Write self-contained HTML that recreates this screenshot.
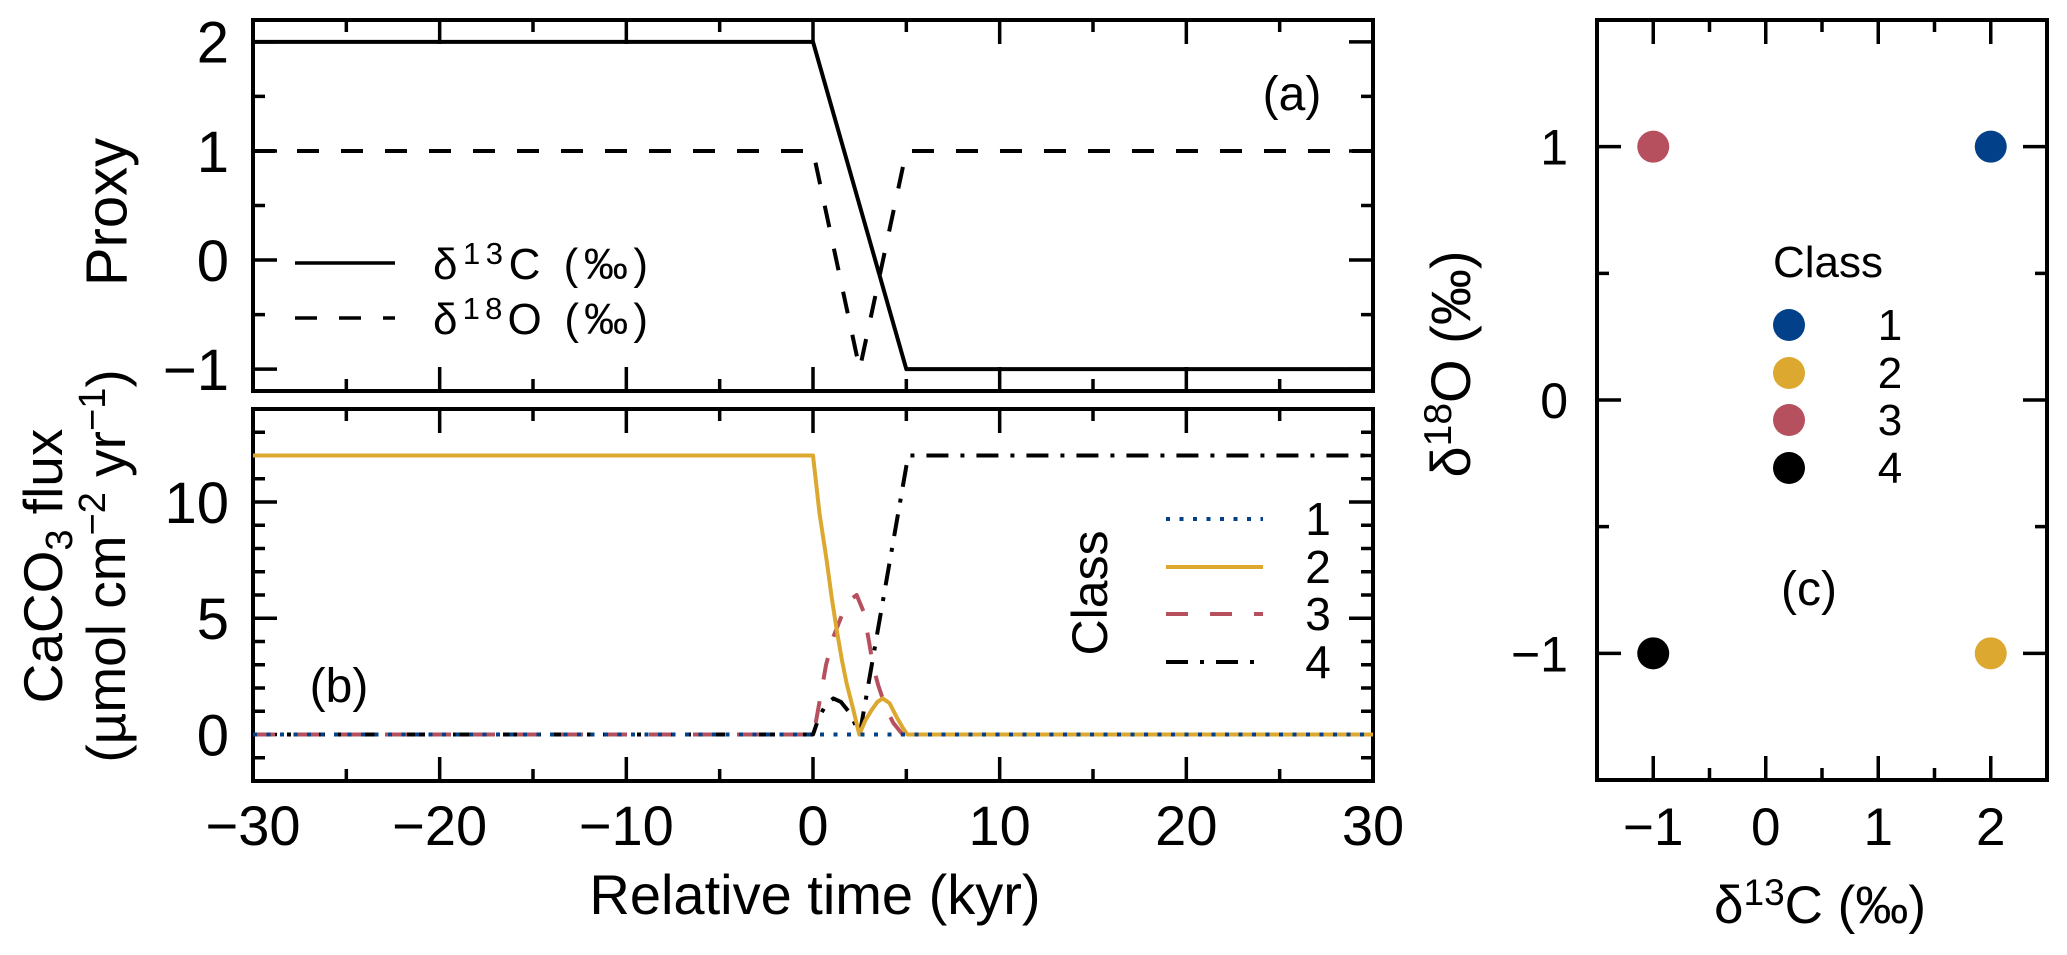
<!DOCTYPE html>
<html><head><meta charset="utf-8"><style>
html,body{margin:0;padding:0;background:#fff;}
svg{display:block;font-family:"Liberation Sans",Arial,sans-serif;}
</style></head><body>
<svg id="fig" width="2067" height="955" viewBox="0 0 2067 955" xmlns="http://www.w3.org/2000/svg">
<g id="axes"></g>
<g id="marks"></g>
<g id="texts" fill="#000">
  <text x="107" y="212" font-size="58" text-anchor="middle" transform="rotate(-90 107 212)" dominant-baseline="central">Proxy</text>
  <text x="62" y="566" font-size="55" text-anchor="middle" transform="rotate(-90 62 566)">CaCO<tspan font-size="38" dy="10">3</tspan><tspan dy="-10"> flux</tspan></text>
  <text x="125" y="566" font-size="55" text-anchor="middle" transform="rotate(-90 125 566)">(µmol cm<tspan font-size="38" dy="-20">−2</tspan><tspan dy="20"> yr</tspan><tspan font-size="38" dy="-20">−1</tspan><tspan dy="20">)</tspan></text>
  <text x="815" y="914" font-size="56" text-anchor="middle">Relative time (kyr)</text>
  <text x="1292" y="110" font-size="48" text-anchor="middle">(a)</text>
  <text x="339" y="702" font-size="48" text-anchor="middle">(b)</text>
  <text x="1809" y="605" font-size="48" text-anchor="middle">(c)</text>
  <text x="1820" y="923" font-size="53" text-anchor="middle">δ<tspan font-size="37" dy="-18">13</tspan><tspan dy="18">C (‰)</tspan></text>
  <text x="1470" y="364" font-size="56" text-anchor="middle" transform="rotate(-90 1470 364)">δ<tspan font-size="39" dy="-19">18</tspan><tspan dy="19">O (‰)</tspan></text>
  <g>
    <line x1="295" y1="263" x2="395" y2="263" stroke="#000" stroke-width="3.5"/>
    <line x1="295" y1="318" x2="395" y2="318" stroke="#000" stroke-width="3.5" stroke-dasharray="22 22"/>
    <text x="433" y="279" font-size="44" textLength="215" lengthAdjust="spacing">δ<tspan font-size="31" dy="-15">13</tspan><tspan dy="15">C (‰)</tspan></text>
    <text x="433" y="334" font-size="44" textLength="215" lengthAdjust="spacing">δ<tspan font-size="31" dy="-15">18</tspan><tspan dy="15">O (‰)</tspan></text>
  </g>
  <g>
    <text x="1107" y="593" font-size="50" text-anchor="middle" transform="rotate(-90 1107 593)">Class</text>
    <line x1="1166" y1="519" x2="1263" y2="519" stroke="#02418A" stroke-width="4" stroke-dasharray="4 9.5"/>
    <line x1="1166" y1="567" x2="1263" y2="567" stroke="#DCA82F" stroke-width="4"/>
    <line x1="1166" y1="614" x2="1263" y2="614" stroke="#B6505F" stroke-width="4" stroke-dasharray="22 22"/>
    <line x1="1166" y1="662" x2="1263" y2="662" stroke="#000" stroke-width="4" stroke-dasharray="22 12 4 12"/>
    <text x="1318" y="535" font-size="46" text-anchor="middle">1</text>
    <text x="1318" y="583" font-size="46" text-anchor="middle">2</text>
    <text x="1318" y="630" font-size="46" text-anchor="middle">3</text>
    <text x="1318" y="678" font-size="46" text-anchor="middle">4</text>
  </g>
  <g>
    <text x="1828" y="277" font-size="44" text-anchor="middle">Class</text>
    <circle cx="1789" cy="325" r="16" fill="#02418A"/>
    <circle cx="1789" cy="373" r="16" fill="#DCA82F"/>
    <circle cx="1789" cy="420" r="16" fill="#B6505F"/>
    <circle cx="1789" cy="468" r="16" fill="#000"/>
    <text x="1890" y="340" font-size="44" text-anchor="middle">1</text>
    <text x="1890" y="388" font-size="44" text-anchor="middle">2</text>
    <text x="1890" y="435" font-size="44" text-anchor="middle">3</text>
    <text x="1890" y="483" font-size="44" text-anchor="middle">4</text>
  </g>
</g>
</svg>
<script>
// ---- data ----
const xTicks = [-30, -20, -10, 0, 10, 20, 30];
const xTickLabels = ["−30", "−20", "−10", "0", "10", "20", "30"];
const aYTicks = [-1, 0, 1, 2];
const aYTickLabels = ["−1", "0", "1", "2"];
const bYTicks = [0, 5, 10];
const bYTickLabels = ["0", "5", "10"];
const cXTicks = [-1, 0, 1, 2];
const cXTickLabels = ["−1", "0", "1", "2"];
const cYTicks = [-1, 0, 1];
const cYTickLabels = ["−1", "0", "1"];

const d13cTime = [-30, 0, 5, 30];
const d13cVal = [2, 2, -1, -1];
const d18oTime = [-30, 0, 2.5, 5, 30];
const d18oVal = [1, 1, -1, 1, 1];

const c1Time = [-30, 30];
const c1Val = [0, 0];
const c2Time = [-30, 0, 0.35, 0.73, 1.0, 1.27, 1.55, 1.8, 2.15, 2.48, 2.8, 3.14, 3.45, 3.73, 4.1, 4.48, 4.8, 5.05, 30];
const c2Val = [12, 12, 9.5, 7.5, 5.9, 4.5, 3.2, 2.2, 1.1, 0, 0.6, 1.05, 1.4, 1.55, 1.35, 0.75, 0.3, 0, 0];
const c3Time = [-30, 0, 0.1, 0.37, 0.7, 1.09, 1.63, 2.0, 2.34, 2.7, 3.0, 3.23, 3.5, 3.77, 4.05, 4.3, 4.8, 30];
const c3Val = [0, 0, 0.3, 1.5, 3.0, 4.2, 5.3, 5.8, 6.0, 5.3, 4.0, 2.9, 2.1, 1.46, 0.9, 0.5, 0, 0];
const c4Time = [-30, 0, 0.3, 0.7, 1.09, 1.5, 2.0, 2.5, 5.1, 30];
const c4Val = [0, 0, 0.7, 1.3, 1.55, 1.4, 0.9, 0, 12, 12];

const scatterX = [2, 2, -1, -1];
const scatterY = [1, -1, 1, -1];
const scatterColor = ["#02418A", "#DCA82F", "#B6505F", "#000000"];

// ---- layout ----
const NS = "http://www.w3.org/2000/svg";
const axesG = document.getElementById("axes");
const marksG = document.getElementById("marks");
const panels = {
  a: {l: 253, r: 1373, t: 20, b: 391, x0: -30, x1: 30, y0: -1.2, y1: 2.2},
  b: {l: 253, r: 1373, t: 409, b: 781, x0: -30, x1: 30, y0: -2, y1: 14},
  c: {l: 1597, r: 2047, t: 20, b: 780, x0: -1.5, x1: 2.5, y0: -1.5, y1: 1.5}
};
function sx(p, v) { return p.l + (v - p.x0) / (p.x1 - p.x0) * (p.r - p.l); }
function sy(p, v) { return p.b - (v - p.y0) / (p.y1 - p.y0) * (p.b - p.t); }
function mk(tag, attrs, parent) {
  const e = document.createElementNS(NS, tag);
  for (const k in attrs) e.setAttribute(k, attrs[k]);
  parent.appendChild(e);
  return e;
}
function range(a, b, s) { const r = []; for (let v = a; v <= b + 1e-9; v += s) r.push(Math.round(v * 1000) / 1000); return r; }

function drawFrame(p, name, xMajor, xMinor, yMajor, yMinor) {
  const g = mk("g", {}, axesG);
  
  
  const rect = mk("rect", {x: p.l, y: p.t, width: p.r - p.l, height: p.b - p.t, fill: "none", stroke: "#000", "stroke-width": 4}, g);
  
  
  const ML = 24, mL = 12;
  let d = "";
  xMajor.forEach(v => { const x = sx(p, v); d += `M${x},${p.b}v${-ML}M${x},${p.t}v${ML}`; });
  xMinor.forEach(v => { const x = sx(p, v); d += `M${x},${p.b}v${-mL}M${x},${p.t}v${mL}`; });
  yMajor.forEach(v => { const y = sy(p, v); d += `M${p.l},${y}h${ML}M${p.r},${y}h${-ML}`; });
  yMinor.forEach(v => { const y = sy(p, v); d += `M${p.l},${y}h${mL}M${p.r},${y}h${-mL}`; });
  const t = mk("path", {d: d, stroke: "#000", "stroke-width": 3.5, fill: "none"}, g);
  
  
}
function tickLabelsX(p, vals, labels, y, fs, name) {
  vals.forEach((v, i) => {
    const t = mk("text", {x: sx(p, v), y: y, "font-size": fs, "text-anchor": "middle"}, axesG);
    t.textContent = labels[i];
    
    
  });
}
function tickLabelsY(p, vals, labels, x, fs, name) {
  vals.forEach((v, i) => {
    const t = mk("text", {x: x, y: sy(p, v) + fs * 0.36, "font-size": fs, "text-anchor": "end"}, axesG);
    t.textContent = labels[i];
    
    
  });
}
function line(p, xs, ys, color, dash, name) {
  let d = "";
  xs.forEach((v, i) => { d += (i ? "L" : "M") + sx(p, v).toFixed(2) + "," + sy(p, ys[i]).toFixed(2); });
  const e = mk("path", {d: d, fill: "none", stroke: color, "stroke-width": 4, "stroke-linejoin": "round"}, marksG);
  if (dash) e.setAttribute("stroke-dasharray", dash);
  
  
}

const xMinorT = range(-25, 25, 10);
drawFrame(panels.a, "panel-a", xTicks, xMinorT, aYTicks, [-0.5, 0.5, 1.5]);
drawFrame(panels.b, "panel-b", xTicks, xMinorT, bYTicks, range(-1, 13, 1).filter(v => v % 5 !== 0));
drawFrame(panels.c, "panel-c", cXTicks, [-0.5, 0.5, 1.5], cYTicks, [-0.5, 0.5]);

tickLabelsY(panels.a, aYTicks, aYTickLabels, 229, 58, "panel-a");
tickLabelsY(panels.b, bYTicks, bYTickLabels, 229, 58, "panel-b");
tickLabelsX(panels.b, xTicks, xTickLabels, 845, 56, "panel-b");
tickLabelsX(panels.c, cXTicks, cXTickLabels, 845, 53, "panel-c");
tickLabelsY(panels.c, cYTicks, cYTickLabels, 1568, 50, "panel-c");

line(panels.a, d13cTime, d13cVal, "#000", null, "d13c-line");
line(panels.a, d18oTime, d18oVal, "#000", "22 22", "d18o-line");
line(panels.b, c4Time, c4Val, "#000", "22 12 4 12", "class4-flux-line");
line(panels.b, c3Time, c3Val, "#B6505F", "22 22", "class3-flux-line");
line(panels.b, c2Time, c2Val, "#DCA82F", null, "class2-flux-line");
line(panels.b, c1Time, c1Val, "#02418A", "4 9.5", "class1-flux-line");

scatterX.forEach((v, i) => {
  const c = mk("circle", {cx: sx(panels.c, v), cy: sy(panels.c, scatterY[i]), r: 16, fill: scatterColor[i]}, marksG);
  
  
});
</script>
</body></html>
